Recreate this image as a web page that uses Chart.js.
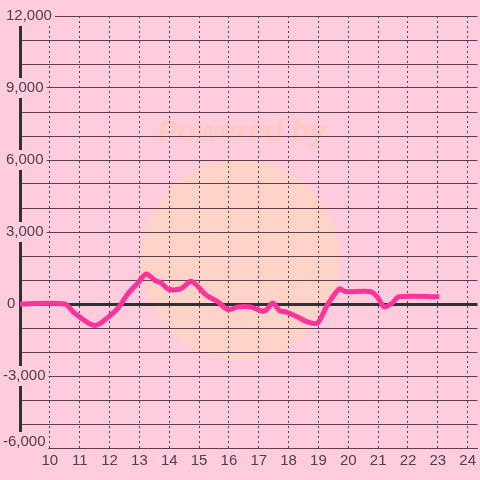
<!DOCTYPE html>
<html>
<head>
<meta charset="utf-8">
<script src="https://cdn.jsdelivr.net/npm/chart.js@4"></script>
<style>
  html, body { margin: 0; padding: 0; background: #ffccdd; }
  #wrap { width: 480px; height: 480px; }
</style>
</head>
<body>
<div id="wrap"><canvas id="chart" width="480" height="480"></canvas></div>
<script>
// hours of the day (x) and values (y)
const hours = [9, 10.5, 10.8, 11.5, 12.0, 12.3, 12.6, 12.97, 13.23, 13.53, 13.73, 13.97, 14.4, 14.73, 14.97,
  15.23, 15.6, 15.97, 16.3, 16.73, 17.07, 17.23, 17.47, 17.7, 17.9, 18.3, 18.63, 18.97, 19.3, 19.7, 19.9,
  20.73, 20.97, 21.2, 21.47, 21.7, 23.05];
const values = [0, 0, -350, -900, -500, -150, 400, 900, 1250, 980, 880, 620, 640, 950, 720,
  380, 120, -230, -120, -120, -280, -280, 40, -280, -330, -540, -750, -790, -40, 630, 520,
  520, 300, -120, 40, 300, 300];
const xTicks = [10, 11, 12, 13, 14, 15, 16, 17, 18, 19, 20, 21, 22, 23, 24];
const yLabels = [-6000, -3000, 0, 3000, 6000, 9000, 12000];

const pink = "#ffccdd";
const gridColor = "#5e3f50";
const textColor = "#4f4048";
const labelFont = "15px 'Liberation Sans'";

// faint watermark behind the grid
const watermark = {
  id: "watermark",
  beforeDraw(chart) {
    const c = chart.ctx;
    c.save();
    c.fillStyle = pink;
    c.fillRect(0, 0, chart.width, chart.height);
    c.fillStyle = "rgba(255, 212, 196, 0.85)";
    c.beginPath();
    c.arc(240, 260, 100, 0, Math.PI * 2);
    c.fill();
    c.font = "italic bold 30px 'Liberation Sans'";
    c.fillStyle = "rgba(255, 200, 188, 0.95)";
    c.textAlign = "center";
    c.textBaseline = "middle";
    c.fillText("Powered by", 242, 133);
    c.restore();
  }
};

// y labels sit over the axis line with a pink patch behind them
const yLabelPlugin = {
  id: "yLabelPlugin",
  afterDraw(chart) {
    const c = chart.ctx;
    const scale = chart.scales.y;
    c.save();
    c.font = labelFont;
    c.textAlign = "left";
    c.textBaseline = "middle";
    yLabels.forEach(v => {
      const txt = v.toLocaleString("en-US");
      let y = scale.getPixelForValue(v);
      y = Math.min(y, chart.chartArea.bottom - 6);
      const x = v === 0 ? 7 : (v < 0 ? 3 : 6);
      const w = c.measureText(txt).width;
      c.fillStyle = pink;
      c.fillRect(x - 2, y - 10, w + 5, 20);
      c.fillStyle = textColor;
      c.fillText(txt, x, y);
    });
    c.restore();
  }
};

const points = hours.map((h, i) => ({ x: h, y: values[i] }));

new Chart(document.getElementById("chart"), {
  type: "line",
  data: {
    datasets: [{
      data: points,
      borderColor: "#ff3399",
      borderWidth: 5,
      pointRadius: 0,
      tension: 0.3,
      fill: false
    }]
  },
  options: {
    responsive: false,
    animation: false,
    layout: { padding: { left: 20, top: 16, right: 0, bottom: 6 } },
    plugins: { legend: { display: false }, tooltip: { enabled: false } },
    scales: {
      x: {
        type: "linear",
        min: 9,
        max: 24.33,
        afterBuildTicks(scale) {
          scale.ticks = xTicks.map(v => ({ value: v }));
        },
        grid: { color: gridColor, lineWidth: 1, drawTicks: false },
        border: { display: true, color: gridColor, width: 1, dash: [2, 3] },
        ticks: {
          color: textColor,
          padding: 4,
          font: { family: "'Liberation Sans'", size: 15 },
          callback: v => String(v)
        }
      },
      y: {
        min: -6000,
        max: 12000,
        grid: {
          drawTicks: false,
          color: ctx => (ctx.tick && ctx.tick.value === 0 ? "#333033" : gridColor),
          lineWidth: ctx => (ctx.tick && ctx.tick.value === 0 ? 3 : 1)
        },
        border: { display: true, color: "#333033", width: 3 },
        ticks: { stepSize: 1000, display: false }
      }
    }
  },
  plugins: [watermark, yLabelPlugin]
});
</script>
</body>
</html>
